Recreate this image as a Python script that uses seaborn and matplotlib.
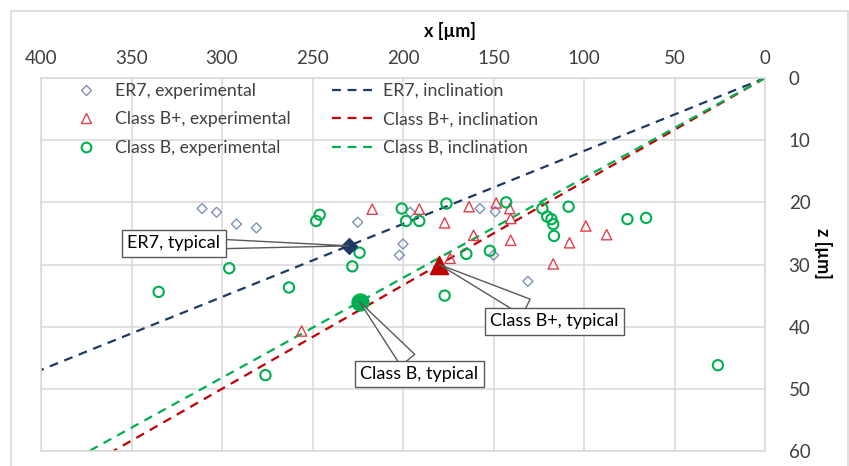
import matplotlib
matplotlib.use("Agg")
import matplotlib.pyplot as plt
import seaborn as sns
import numpy as np
from matplotlib.lines import Line2D
from matplotlib.patches import Rectangle

# ---------------- data ----------------
er7_x = [311, 303, 292, 281, 225, 196, 200, 202, 157.5, 149, 150, 131]
er7_z = [21.0, 21.6, 23.5, 24.1, 23.2, 21.6, 26.7, 28.5, 21.0, 21.5, 28.5, 32.7]

bplus_x = [217, 191, 177, 163.5, 148.5, 141, 140.5, 161, 140.5, 174, 117, 108, 99, 87.5, 256]
bplus_z = [21.1, 21.1, 23.3, 20.7, 20.1, 21.0, 22.6, 25.3, 26.1, 29.0, 29.9, 26.5, 23.8, 25.2, 40.7]

b_x = [248, 246, 200.7, 198.3, 191, 176, 143, 123, 120.3, 118, 117, 116.6, 108.5,
       165, 152, 177, 76, 65.7, 224, 228, 296, 263, 335, 276, 26]
b_z = [23.0, 22.0, 21.0, 23.0, 23.0, 20.2, 20.0, 21.0, 22.3, 22.7, 23.5, 25.4, 20.7,
       28.3, 27.8, 35.0, 22.7, 22.5, 28.1, 30.3, 30.6, 33.7, 34.4, 47.8, 46.2]

# typical points (x, z)
er7_typ = (230, 27.0)
bplus_typ = (180, 30.0)
b_typ = (224, 36.0)

x_ticks = [400, 350, 300, 250, 200, 150, 100, 50, 0]
z_ticks = [0, 10, 20, 30, 40, 50, 60]

labels_exp = ["ER7, experimental", "Class B+, experimental", "Class B, experimental"]
labels_inc = ["ER7, inclination", "Class B+, inclination", "Class B, inclination"]
labels_typ = ["ER7, typical", "Class B+, typical", "Class B, typical"]

# ---------------- style ----------------
sns.set_theme(style="white")
plt.rcParams["font.family"] = ["Lato", "DejaVu Sans"]

navy = "#1F3864"
red = "#C00000"
green = "#00B050"
diam_c = "#7F90BA"
tri_c = "#E0404A"
grid_c = "#D9D9D9"
text_c = "#404040"

fig = plt.figure(figsize=(8.49, 4.66), dpi=100)
ax = fig.add_axes([41 / 849, 1 - 451 / 466, (765 - 41) / 849, (451 - 78) / 466])

# outer chart border
fig.patches.append(Rectangle((11 / 849, -0.05), (848 - 11) / 849, 1.05 - 11 / 466,
                             transform=fig.transFigure, fill=False,
                             ec=grid_c, lw=1.2, zorder=0))

ax.set_xlim(400, 0)
ax.set_ylim(60, 0)
ax.set_xticks(x_ticks)
ax.set_yticks(z_ticks)
ax.xaxis.tick_top()
ax.yaxis.tick_right()
ax.grid(True, color=grid_c, lw=1.1)
ax.set_axisbelow(True)
for sp in ax.spines.values():
    sp.set_color(grid_c)
    sp.set_linewidth(1.1)
ax.tick_params(axis="x", length=0, pad=8, labelsize=13.5, labelcolor=text_c)
ax.tick_params(axis="y", length=0, pad=17, labelsize=13.5, labelcolor=text_c)

# inclination lines through origin and typical point
ax.axline((0, 0), er7_typ, color=navy, ls=(0, (4, 3)), lw=1.6, zorder=2)
ax.axline((0, 0), bplus_typ, color=red, ls=(0, (4, 3)), lw=1.6, zorder=2)
ax.axline((0, 0), b_typ, color=green, ls=(0, (4, 3)), lw=1.6, zorder=2)

# experimental points
sns.scatterplot(x=er7_x, y=er7_z, ax=ax, marker="D", s=26, facecolor="none",
                edgecolor=diam_c, linewidth=1.0, zorder=3)
sns.scatterplot(x=bplus_x, y=bplus_z, ax=ax, marker="^", s=55, facecolor="none",
                edgecolor=tri_c, linewidth=1.0, zorder=3)
sns.scatterplot(x=b_x, y=b_z, ax=ax, marker="o", s=55, facecolor="none",
                edgecolor=green, linewidth=1.5, zorder=3)

# typical points
sns.scatterplot(x=[er7_typ[0]], y=[er7_typ[1]], ax=ax, marker="D", s=70,
                color=navy, edgecolor=navy, zorder=4)
sns.scatterplot(x=[bplus_typ[0]], y=[bplus_typ[1]], ax=ax, marker="^", s=170,
                color=red, edgecolor=red, zorder=4)
sns.scatterplot(x=[b_typ[0]], y=[b_typ[1]], ax=ax, marker="o", s=150,
                color=green, edgecolor=green, zorder=4)

# callouts
box = dict(boxstyle="square,pad=0.3", fc="white", ec="#595959", lw=1.0)
def callout(label, pt, offset, tw):
    ax.annotate(label, xy=pt, xytext=offset, textcoords="offset points",
                ha="center", va="center", fontsize=13, color="black",
                bbox=box, zorder=6,
                arrowprops=dict(arrowstyle=f"wedge,tail_width={tw},shrink_factor=0.5",
                                fc="white", ec="#595959", lw=1.0,
                                shrinkA=0, shrinkB=0))

callout(labels_typ[0], er7_typ, (-126, 1.8), 0.5)
callout(labels_typ[1], bplus_typ, (83, -40.8), 1.0)
callout(labels_typ[2], b_typ, (43, -52), 1.0)

# axis titles
fig.text(450 / 849, 1 - 31 / 466, "x [µm]", ha="center", va="center",
         fontsize=13, fontweight="bold", color="black")
fig.text(823 / 849, 1 - 253 / 466, "z [µm]", ha="center", va="center",
         fontsize=13, fontweight="bold", color="black", rotation=-90)

# legend
h_exp = [Line2D([], [], ls="none", marker="D", ms=5, mfc="none", mec=diam_c, mew=1.0),
         Line2D([], [], ls="none", marker="^", ms=7, mfc="none", mec=tri_c, mew=1.0),
         Line2D([], [], ls="none", marker="o", ms=7, mfc="none", mec=green, mew=1.5)]
h_inc = [Line2D([], [], color=c, ls=(0, (4, 3)), lw=1.6) for c in (navy, red, green)]
leg = ax.legend(h_exp + h_inc, labels_exp + labels_inc, ncol=2, loc="upper left",
                bbox_to_anchor=(0.01, 1.03), frameon=False, fontsize=12.7,
                handlelength=2.45, columnspacing=2.35, labelspacing=0.72,
                handletextpad=0.45)
for t in leg.get_texts():
    t.set_color(text_c)

fig.savefig("out.png", dpi=100)
